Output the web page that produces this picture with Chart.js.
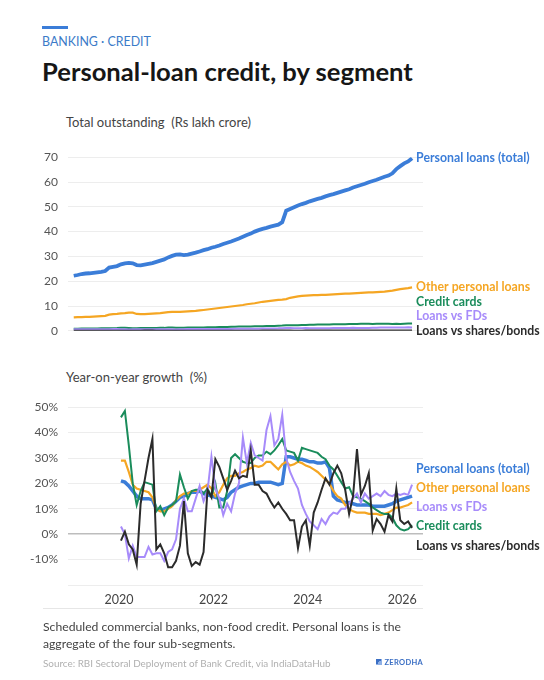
<!DOCTYPE html>
<html>
<head>
<meta charset="utf-8">
<script src="https://cdn.jsdelivr.net/npm/chart.js@4.4.1/dist/chart.umd.min.js"></script>
<style>
  html, body { margin: 0; padding: 0; background: #fff; }
  body { width: 544px; height: 680px; position: relative; overflow: hidden; font-family: Lato, "Open Sans", sans-serif; }
  .abs { position: absolute; white-space: pre; }
  .bar { position: absolute; left: 42px; top: 26px; width: 26px; height: 3px; background: #3b7dd8; }
  .kicker { left: 42px; top: 34px; font-size: 12.4px; line-height: 16px; color: #3b7bc8; }
  .title { left: 42px; top: 56px; font-size: 25.6px; line-height: 30px; font-weight: 700; color: #161616; }
  .sub { left: 66px; font-size: 13px; line-height: 16px; color: #444; }
  canvas { position: absolute; left: 0; }
  #levelChart { top: 140px; }
  #growthChart { top: 390px; }
  .rule { position: absolute; left: 43px; top: 608px; width: 380px; height: 1px; background: #e6e6e6; }
  .note { left: 43px; top: 619px; font-size: 12.2px; line-height: 16.5px; color: #444; }
  .source { left: 43px; top: 657px; font-size: 9.9px; line-height: 13px; color: #b0b0b0; }
  .brand { right: 121px; top: 658px; font-size: 7.5px; line-height: 10px; font-weight: 700; letter-spacing: 0.3px; color: #3b6fc4; }
  .brand .mark { display: inline-block; width: 6px; height: 6px; margin-right: 3px; background: linear-gradient(135deg, #3b6fc4 50%, #8fb0e6 50%); }
</style>
</head>
<body>
<div class="bar"></div>
<div class="abs kicker">BANKING · CREDIT</div>
<div class="abs title">Personal-loan credit, by segment</div>
<div class="abs sub" style="top:114px">Total outstanding  (Rs lakh crore)</div>
<canvas id="levelChart" width="544" height="208"></canvas>
<div class="abs sub" style="top:369px">Year-on-year growth  (%)</div>
<canvas id="growthChart" width="544" height="225"></canvas>
<div class="rule"></div>
<div class="abs note">Scheduled commercial banks, non-food credit. Personal loans is the
aggregate of the four sub-segments.</div>
<div class="abs source">Source: RBI Sectoral Deployment of Bank Credit, via IndiaDataHub</div>
<div class="abs brand"><span class="mark"></span>ZERODHA</div>
<script>
'use strict';

// monthly, Jan 2019 .. Mar 2026
var startYear = 2019;
var monthCount = 87;
var yearTicks = [2020, 2022, 2024, 2026];

var seriesNames = ['Personal loans (total)', 'Other personal loans', 'Credit cards', 'Loans vs FDs', 'Loans vs shares/bonds'];
var seriesColors = ['#3b7dd8', '#f5a623', '#1a8c5b', '#a78bfa', '#2b2b2b'];

// outstanding, Rs lakh crore
var totalPersonal = [
    22.2, 22.5, 22.9, 23.1, 23.2, 23.4, 23.6, 23.8, 24.1, 25.5, 25.8, 26.1,
    26.8, 27.2, 27.4, 27.2, 26.5, 26.4, 26.7, 27.0, 27.3, 27.8, 28.3, 28.8,
    29.6, 30.2, 30.7, 30.8, 30.5, 30.7, 31.1, 31.5, 32.0, 32.5, 32.9, 33.5,
    33.9, 34.4, 35.0, 35.5, 36.0, 36.6, 37.2, 37.9, 38.6, 39.2, 40.0, 40.6,
    41.1, 41.5, 42.0, 42.4, 42.8, 43.8, 48.4, 49.1, 49.8, 50.5, 51.1, 51.6,
    52.2, 52.7, 53.2, 53.6, 54.2, 54.7, 55.1, 55.6, 56.1, 56.6, 57.1, 57.8,
    58.3, 58.8, 59.3, 59.9, 60.4, 60.9, 61.5, 62.1, 62.6, 63.5, 65.2, 66.4,
    67.5, 68.3, 69.6
];
var otherPersonal = [
    5.4, 5.5, 5.5, 5.6, 5.6, 5.7, 5.8, 5.9, 6.0, 6.5, 6.7, 6.8,
    7.0, 7.1, 7.3, 7.3, 6.8, 6.7, 6.7, 6.8, 6.9, 7.0, 7.1, 7.3,
    7.5, 7.6, 7.6, 7.6, 7.7, 7.8, 7.9, 8.0, 8.2, 8.4, 8.6, 8.8,
    9.0, 9.2, 9.4, 9.6, 9.8, 10.0, 10.2, 10.4, 10.7, 10.9, 11.1, 11.4,
    11.7, 11.9, 12.1, 12.3, 12.5, 12.6, 12.8, 13.3, 13.6, 13.9, 14.1, 14.2,
    14.3, 14.4, 14.4, 14.5, 14.5, 14.6, 14.7, 14.8, 14.9, 15.0, 15.0, 15.1,
    15.2, 15.3, 15.4, 15.5, 15.5, 15.6, 15.7, 15.8, 16.0, 16.2, 16.5, 16.8,
    17.0, 17.2, 17.5
];
var creditCards = [
    0.86, 0.87, 0.89, 0.91, 0.93, 0.95, 0.97, 0.99, 1.01, 1.03, 1.06, 1.09,
    1.2, 1.22, 1.12, 1.02, 1.06, 1.12, 1.15, 1.17, 1.13, 1.16, 1.2, 1.18,
    1.3, 1.33, 1.28, 1.2, 1.24, 1.3, 1.34, 1.36, 1.34, 1.34, 1.4, 1.4,
    1.47, 1.52, 1.52, 1.55, 1.6, 1.68, 1.74, 1.78, 1.72, 1.73, 1.8, 1.8,
    1.88, 1.9, 1.95, 1.97, 2.02, 2.1, 2.22, 2.28, 2.22, 2.2, 2.35, 2.37,
    2.4, 2.46, 2.5, 2.5, 2.5, 2.58, 2.65, 2.68, 2.65, 2.63, 2.7, 2.7,
    2.76, 2.8, 2.82, 2.82, 2.78, 2.84, 2.86, 2.88, 2.84, 2.78, 2.82, 2.75,
    2.86, 2.92, 2.94
];
var loansVsFDs = [
    0.62, 0.62, 0.63, 0.64, 0.64, 0.65, 0.66, 0.66, 0.67, 0.67, 0.68, 0.68,
    0.64, 0.62, 0.57, 0.61, 0.59, 0.6, 0.6, 0.63, 0.62, 0.62, 0.61, 0.61,
    0.6, 0.58, 0.56, 0.6, 0.64, 0.68, 0.68, 0.69, 0.68, 0.7, 0.7, 0.7,
    0.71, 0.72, 0.74, 0.75, 0.77, 0.79, 0.82, 0.84, 0.83, 0.84, 0.86, 0.87,
    0.88, 0.92, 0.96, 0.96, 0.98, 1.05, 1.1, 1.08, 1.05, 1.04, 1.05, 1.1,
    1.04, 1.02, 1.0, 1.01, 1.02, 1.05, 1.12, 1.14, 1.14, 1.14, 1.13, 1.2,
    1.16, 1.16, 1.16, 1.17, 1.19, 1.23, 1.29, 1.3, 1.32, 1.32, 1.33, 1.37,
    1.38, 1.39, 1.36
];
var loansVsShares = [
    0.065, 0.064, 0.063, 0.062, 0.061, 0.06, 0.06, 0.058, 0.057, 0.06, 0.061, 0.062,
    0.063, 0.065, 0.061, 0.058, 0.054, 0.07, 0.073, 0.078, 0.079, 0.056, 0.057, 0.055,
    0.055, 0.054, 0.053, 0.052, 0.049, 0.048, 0.052, 0.048, 0.045, 0.05, 0.052, 0.052,
    0.07, 0.064, 0.065, 0.06, 0.06, 0.06, 0.062, 0.06, 0.06, 0.063, 0.064, 0.063,
    0.079, 0.075, 0.072, 0.074, 0.072, 0.074, 0.073, 0.071, 0.07, 0.069, 0.068, 0.072,
    0.075, 0.072, 0.074, 0.076, 0.076, 0.079, 0.078, 0.084, 0.087, 0.084, 0.092, 0.095,
    0.092, 0.087, 0.08, 0.085, 0.083, 0.082, 0.084, 0.086, 0.098, 0.1, 0.085, 0.09,
    0.094, 0.093, 0.095
];

// year-on-year growth, %, Jan 2020 .. Mar 2026
var growthTotal = [
    21, 20.5, 19, 17, 15, 14, 14, 14, 13.5, 10,
    9.5, 10, 10.5, 11.5, 13, 14.5, 15, 16, 16.5, 16.5,
    17, 16, 15.5, 15, 14.5, 14, 13.5, 14.5, 16.5, 17.5,
    18.5, 19, 19.5, 20, 20, 20.5, 20.5, 20.5, 20.5, 20,
    19.5, 20, 30.5, 30.5, 30, 29.5, 29.5, 29, 28.5, 28.5,
    28, 28, 28.5, 26, 15, 13.5, 13, 12.5, 12.5, 12,
    11.5, 11.5, 11.5, 11.5, 11, 11, 11, 11, 11.5, 12,
    13, 13.5, 14, 14.5, 15
];
var growthOther = [
    29, 29, 24.5, 19.5, 18, 17.5, 17, 16.5, 14.5, 10,
    9, 9, 10, 11, 13.5, 15, 16, 16, 17, 17,
    17.5, 18.5, 19.5, 18, 15, 16.5, 19.5, 22, 23, 23,
    24, 24.5, 25.5, 26, 27, 26.5, 27, 28.5, 28.5, 27,
    25.5, 27.5, 28.5, 27, 27.5, 28.5, 28, 27, 26.5, 25.5,
    24.5, 23, 21.5, 20, 17, 15, 14, 11.5, 10, 9,
    8.5, 8.5, 8.5, 8, 8, 8, 7.5, 8, 8.5, 9.5,
    10.5, 10.5, 11, 11.5, 12.5
];
var growthCards = [
    46, 48.5, 35, 20, 11.5, 17, 20.5, 20, 19.5, 9,
    11, 7.5, 10.5, 11.5, 13, 23.5, 18.5, 14, 17, 17.5,
    17.5, 16, 18, 15, 20, 10.5, 10.5, 17, 30, 31.5,
    30, 28.5, 28, 28, 30, 31, 31, 32.5, 31.5, 33,
    35, 37.5, 33, 32.5, 32, 29, 34, 33.5, 33, 32.5,
    32, 30.5, 29.5, 27, 25.5, 23, 20.5, 18, 18.5, 15,
    14.5, 14, 13, 12, 10.5, 9.5, 8.5, 8, 8, 6.5,
    3.5, 2, 1.5, 2, 3.5
];
var growthFDs = [
    3, 0, -9.5, -4.5, -9, -9, -9, -5, -8, -7.5,
    -7.5, -10.5, -7, -6, -2, 10, 14, 9, 9, 14,
    19, 13, 17, 30.5, 18, 14, 7.5, 12, 9, 16,
    20, 38, 28, 36, 31, 30, 29, 41, 46.5, 35,
    37.5, 47, 30, 24.5, 21, 18, 11.5, 8, 5, 3.5,
    2, 6, 4, 7, 8.5, 8, 10, 10, 12, 14,
    16, 12.5, 16, 14, 15, 16, 15, 17, 15.5, 15,
    16, 15.5, 16, 15.5, 19.5
];
var growthShares = [
    -2.5, 1, -4, -6, -12, 12, 21, 30, 37.5, -6,
    -4, -7.5, -13, -13, -10.5, -4.5, 13, -7.5, -12.5, -11,
    -12, -7, 17.5, 14.5, 29.5, 26.5, 22, 17.5, 21, 25,
    22, 23, 22.5, 33, 19.5, 19.5, 17, 16, 13, 10.5,
    12.5, 10, 8, 5.5, 5.5, -5.5, 3, 5.5, -4.5, 8.5,
    12.5, 17.5, 22, 19.5, 24, 27, 24, 17.5, 8, 15,
    33.5, 15.5, 19, 24, 1.5, 6, 4, 1, 7.5, 5,
    18, 5.5, 4, 5, 2.5
];

var monthX = [];
for (var i = 0; i < monthCount; i++) {
    monthX.push(startYear + (i + 0.5) / 12);
}
var growthX = monthX.slice(12);

Chart.defaults.font.family = 'Lato, "Open Sans", sans-serif';
Chart.defaults.color = '#555';

function points(xs, ys) {
    return ys.map(function (v, i) { return {x: xs[i], y: v}; });
}

function makeDatasets(xs, lists, widths) {
    return lists.map(function (list, i) {
        return {
            label: seriesNames[i],
            data: points(xs, list),
            borderColor: seriesColors[i],
            borderWidth: widths[i],
            pointRadius: 0,
            tension: 0,
            order: 5 - i
        };
    });
}

// push overlapping end labels apart, keeping the given order
function spread(items, gap, lo, hi) {
    function place(g) {
        var n = g.items.length;
        var mean = g.items.reduce(function (s, it) { return s + it.t; }, 0) / n;
        var top = mean - (n - 1) * gap / 2;
        top = Math.min(top, hi - (n - 1) * gap);
        top = Math.max(top, lo);
        g.top = top;
    }
    var groups = items.map(function (it) { return {items: [it]}; });
    groups.forEach(place);
    var changed = true;
    while (changed) {
        changed = false;
        for (var k = 1; k < groups.length; k++) {
            var a = groups[k - 1], b = groups[k];
            var aEnd = a.top + (a.items.length - 1) * gap;
            if (b.top < aEnd + gap - 0.01) {
                a.items = a.items.concat(b.items);
                place(a);
                groups.splice(k, 1);
                changed = true;
                break;
            }
        }
    }
    groups.forEach(function (g) {
        g.items.forEach(function (it, n) { it.y = g.top + n * gap; });
    });
}

var endLabels = {
    id: 'endLabels',
    afterDatasetsDraw: function (chart, args, opts) {
        var ctx = chart.ctx;
        var area = chart.chartArea;
        var items = opts.order.map(function (idx) {
            var meta = chart.getDatasetMeta(idx);
            var last = meta.data[meta.data.length - 1];
            return {idx: idx, x: last.x, t: last.y};
        });
        spread(items, opts.gap, area.top, area.bottom);
        ctx.save();
        ctx.font = '700 12.3px Lato, sans-serif';
        ctx.textBaseline = 'middle';
        ctx.textAlign = 'left';
        items.forEach(function (it) {
            ctx.fillStyle = seriesColors[it.idx];
            ctx.fillText(seriesNames[it.idx], it.x + 4, it.y);
        });
        ctx.restore();
    }
};

var xRange = {min: 2018.92, max: 2026.44};

new Chart(document.getElementById('levelChart'), {
    type: 'line',
    data: {
        datasets: makeDatasets(monthX,
            [totalPersonal, otherPersonal, creditCards, loansVsFDs, loansVsShares],
            [3.8, 2.2, 2, 2, 2])
    },
    options: {
        responsive: false,
        animation: false,
        layout: {padding: {left: 0, right: 121, top: 16, bottom: 2}},
        plugins: {
            legend: {display: false},
            tooltip: {enabled: false},
            endLabels: {order: [0, 1, 2, 3, 4], gap: 14.5}
        },
        scales: {
            x: {type: 'linear', min: xRange.min, max: xRange.max, display: false},
            y: {
                min: 0,
                max: 70,
                grid: {color: '#ededed', drawTicks: false},
                border: {display: false},
                ticks: {stepSize: 10, padding: 10, color: '#555', font: {size: 12}},
                afterFit: function (axis) { axis.width = 68; }
            }
        }
    },
    plugins: [endLabels]
});

new Chart(document.getElementById('growthChart'), {
    type: 'line',
    data: {
        datasets: makeDatasets(growthX,
            [growthTotal, growthOther, growthCards, growthFDs, growthShares],
            [3.5, 2.2, 2, 2, 2])
    },
    options: {
        responsive: false,
        animation: false,
        layout: {padding: {left: 0, right: 121, top: 13, bottom: 5}},
        plugins: {
            legend: {display: false},
            tooltip: {enabled: false},
            endLabels: {order: [0, 1, 3, 2, 4], gap: 19.2}
        },
        scales: {
            x: {
                type: 'linear',
                min: xRange.min,
                max: xRange.max,
                grid: {display: false, drawTicks: false},
                border: {display: false},
                afterBuildTicks: function (axis) {
                    axis.ticks = yearTicks.map(function (v) { return {value: v}; });
                },
                ticks: {
                    padding: 7,
                    color: '#444',
                    font: {size: 12.5},
                    maxRotation: 0,
                    callback: function (v) { return String(v); }
                },
                afterFit: function (axis) { axis.height = 25; }
            },
            y: {
                min: -20,
                max: 50,
                grid: {
                    drawTicks: false,
                    color: function (c) { return c.tick && c.tick.value === 0 ? '#bdbdbd' : '#ededed'; },
                    lineWidth: function (c) { return c.tick && c.tick.value === 0 ? 1.5 : 1; }
                },
                border: {display: false},
                ticks: {
                    stepSize: 10,
                    padding: 10,
                    color: '#555',
                    font: {size: 12},
                    callback: function (v) { return v === -20 ? '' : v + '%'; }
                },
                afterFit: function (axis) { axis.width = 68; }
            }
        }
    },
    plugins: [endLabels]
});
</script>
</body>
</html>
